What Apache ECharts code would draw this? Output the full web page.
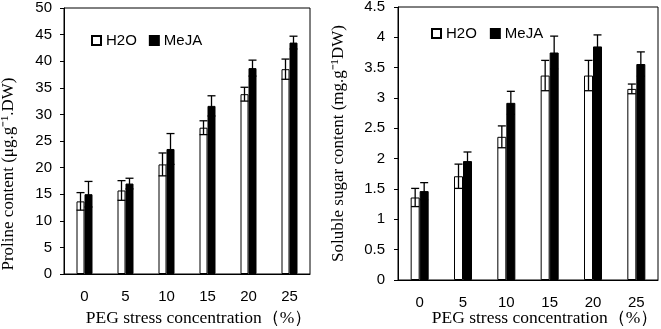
<!DOCTYPE html>
<html>
<head>
<meta charset="utf-8">
<script src="https://cdn.jsdelivr.net/npm/echarts@6/dist/echarts.min.js"></script>
<style>
html,body{margin:0;padding:0;background:#fff;}
#c{width:661px;height:329px;}
</style>
</head>
<body>
<div id="c"></div>
<script>
const categories = ['0', '5', '10', '15', '20', '25'];
const seriesNames = ['H2O', 'MeJA'];
const prolineH2O = [13.65, 15.7, 20.6, 27.5, 33.8, 38.5];
const prolineH2OErr = [1.65, 1.85, 2.15, 1.3, 1.3, 1.9];
const prolineMeJA = [15.0, 17.0, 23.5, 31.6, 38.7, 43.5];
const prolineMeJAErr = [2.4, 1.0, 2.9, 1.9, 1.5, 1.2];
const sugarH2O = [1.36, 1.71, 2.36, 3.37, 3.37, 3.15];
const sugarH2OErr = [0.15, 0.2, 0.18, 0.25, 0.25, 0.08];
const sugarMeJA = [1.465, 1.96, 2.92, 3.75, 3.85, 3.56];
const sugarMeJAErr = [0.14, 0.15, 0.19, 0.27, 0.19, 0.2];
const prolineTicks = {min: 0, max: 50, interval: 5};
const sugarTicks = {min: 0, max: 4.5, interval: 0.5};
const xTitle = 'PEG stress concentration（%）';
const yTitleLeft = 'Proline content (μg.g⁻¹.DW)';
const yTitleRight = 'Soluble sugar content (mg.g⁻¹DW)';

const sans = 'Liberation Sans';
const serif = 'Liberation Serif';

function errRender(side, barW) {
  return function (params, api) {
    const i = api.value(0), v = api.value(1), e = api.value(2);
    const hi = api.coord([i, v + e]);
    const lo = api.coord([i, v - e]);
    const x = hi[0] + side * barW / 2;
    const cap = 4;
    const st = {stroke: '#000', lineWidth: 1.3};
    return {
      type: 'group',
      children: [
        {type: 'line', shape: {x1: x, y1: hi[1], x2: x, y2: lo[1]}, style: st},
        {type: 'line', shape: {x1: x - cap, y1: hi[1], x2: x + cap, y2: hi[1]}, style: st},
        {type: 'line', shape: {x1: x - cap, y1: lo[1], x2: x + cap, y2: lo[1]}, style: st}
      ]
    };
  };
}
function errData(vals, errs) { return vals.map((v, k) => [k, v, errs[k]]); }

function xAxisCfg(gridIndex, margin, nameGap, padLeft) {
  return {
    type: 'category', gridIndex, data: categories,
    axisLine: {lineStyle: {color: '#000', width: 1}},
    axisTick: {show: false},
    axisLabel: {color: '#000', fontFamily: sans, fontSize: 15, margin},
    name: xTitle, nameLocation: 'middle', nameGap, nameMoveOverlap: false,
    nameTextStyle: {color: '#000', fontFamily: serif, fontSize: 17.5, padding: [0, 0, 0, padLeft]}
  };
}
function yAxisCfg(gridIndex, ticks, title, nameGap, pad, margin) {
  return {
    type: 'value', gridIndex, min: ticks.min, max: ticks.max, interval: ticks.interval,
    axisLine: {show: true, lineStyle: {color: '#000', width: 1}},
    axisTick: {show: true, inside: false, length: 4, lineStyle: {color: '#000'}},
    splitLine: {show: false},
    axisLabel: {color: '#000', fontFamily: sans, fontSize: 15, margin},
    name: title, nameLocation: 'middle', nameRotate: 90, nameGap, nameMoveOverlap: false,
    nameTextStyle: {color: '#000', fontFamily: serif, fontSize: 17, padding: pad}
  };
}
const white = {color: '#fff', borderColor: '#000', borderWidth: 1};
const black = {color: '#000', borderColor: '#000', borderWidth: 1};

const option = {
  animation: false,
  backgroundColor: '#fff',
  grid: [
    {left: 64, top: 8, width: 246, height: 266, show: true, borderColor: '#000', borderWidth: 1, backgroundColor: 'transparent', containLabel: false, outerBoundsMode: 'none'},
    {left: 398, top: 7, width: 260, height: 273, show: true, borderColor: '#000', borderWidth: 1, backgroundColor: 'transparent', containLabel: false, outerBoundsMode: 'none'}
  ],
  legend: [
    {data: seriesNames, left: 86, top: 28, itemWidth: 9, itemHeight: 9, itemGap: 12, icon: 'rect',
     textStyle: {color: '#000', fontFamily: sans, fontSize: 15}},
    {data: seriesNames, left: 426, top: 21, itemWidth: 9, itemHeight: 9, itemGap: 13, icon: 'rect',
     textStyle: {color: '#000', fontFamily: sans, fontSize: 15}}
  ],
  xAxis: [xAxisCfg(0, 15, 35, 24), xAxisCfg(1, 15, 29, 34)],
  yAxis: [yAxisCfg(0, prolineTicks, yTitleLeft, 47, [0, 66, 0, 0], 12), yAxisCfg(1, sugarTicks, yTitleRight, 51, [0, 0, 0, 0], 13)],
  series: [
    {name: seriesNames[0], type: 'bar', xAxisIndex: 0, yAxisIndex: 0, data: prolineH2O, barWidth: 8, barGap: '0%', itemStyle: white},
    {name: seriesNames[1], type: 'bar', xAxisIndex: 0, yAxisIndex: 0, data: prolineMeJA, barWidth: 8, barGap: '0%', itemStyle: black},
    {name: seriesNames[0], type: 'bar', xAxisIndex: 1, yAxisIndex: 1, data: sugarH2O, barWidth: 9, barGap: '0%', itemStyle: white},
    {name: seriesNames[1], type: 'bar', xAxisIndex: 1, yAxisIndex: 1, data: sugarMeJA, barWidth: 9, barGap: '0%', itemStyle: black},
    {type: 'custom', xAxisIndex: 0, yAxisIndex: 0, renderItem: errRender(-1, 8), data: errData(prolineH2O, prolineH2OErr), z: 10},
    {type: 'custom', xAxisIndex: 0, yAxisIndex: 0, renderItem: errRender(1, 8), data: errData(prolineMeJA, prolineMeJAErr), z: 10},
    {type: 'custom', xAxisIndex: 1, yAxisIndex: 1, renderItem: errRender(-1, 9), data: errData(sugarH2O, sugarH2OErr), z: 10},
    {type: 'custom', xAxisIndex: 1, yAxisIndex: 1, renderItem: errRender(1, 9), data: errData(sugarMeJA, sugarMeJAErr), z: 10}
  ]
};
const chart = echarts.init(document.getElementById('c'), null, {renderer: 'canvas'});
chart.setOption(option);
</script>
</body>
</html>
